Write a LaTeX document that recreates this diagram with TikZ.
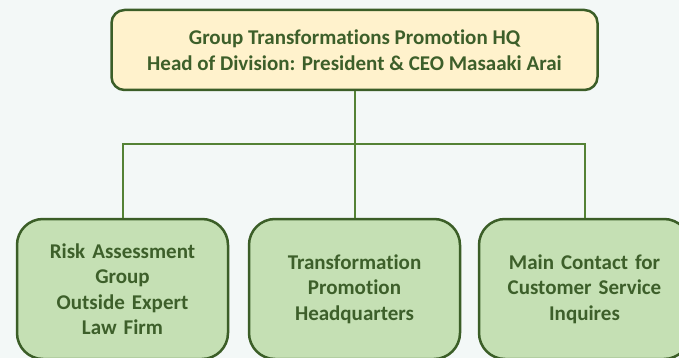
\documentclass[tikz,border=0pt]{standalone}
\usepackage{fontspec}
\setmainfont{Carlito}[Ligatures=NoCommon]
\usetikzlibrary{positioning}

\definecolor{pagebg}{HTML}{F3F8F7}
\definecolor{hqfill}{HTML}{FFF2CC}
\definecolor{unitfill}{HTML}{C5E0B4}
\definecolor{edgegreen}{HTML}{3B5E27}
\definecolor{linkgreen}{HTML}{548235}
\definecolor{textgreen}{HTML}{3D5F2A}

\begin{document}
\begin{tikzpicture}[x=1pt,y=-1pt,
    hqbox/.style={draw=edgegreen,fill=hqfill,line width=2.5pt,rounded corners=13pt,
      minimum width=486pt,minimum height=80pt,align=center,text=textgreen,
      font=\fontsize{21}{26.5}\selectfont\bfseries},
    unitbox/.style={draw=edgegreen,fill=unitfill,line width=2.5pt,rounded corners=26pt,
      minimum width=211pt,minimum height=140pt,text width=200pt,align=center,text=textgreen,
      font=\fontsize{21}{25.5}\selectfont\bfseries},
    link/.style={draw=linkgreen,line width=2pt}]
\fill[pagebg] (0,0) rectangle (679,358);
\useasboundingbox (0,0) rectangle (679,358);

    \node[hqbox] (hq) at (354.5,50) {Group Transformations Promotion HQ\\Head of Division: President \& CEO Masaaki Arai};
    \node[unitbox] (risk) at (122.5,289) {Risk Assessment\\Group\\Outside Expert\\Law Firm};
    \node[unitbox] (tph) at (354.5,289) {Transformation\\Promotion\\Headquarters};
    \node[unitbox] (contact) at (584.5,289) {Main Contact for\\Customer Service\\Inquires};
    \coordinate (bus) at (354.5,144);

% tree lines
\draw[link] (hq.south) -- (tph.north);
\draw[link] (risk.north) |- (bus) -| (contact.north);
\end{tikzpicture}
\end{document}
